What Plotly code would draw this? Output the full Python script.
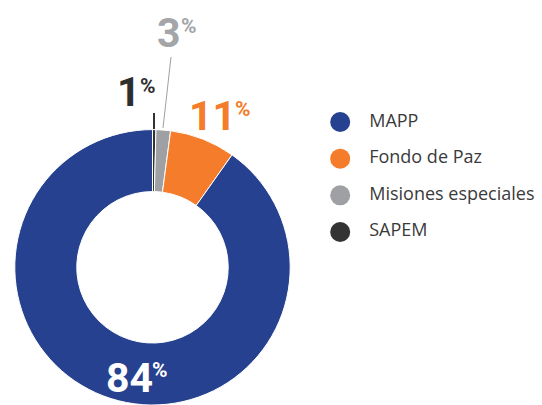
import plotly.graph_objects as go

W, H = 542, 405

# ---- data ----
categories = ["MAPP", "Fondo de Paz", "Misiones especiales", "SAPEM"]
shares_drawn = [90.2, 7.7, 1.7, 0.4]          # slice sizes as drawn
label_numbers = ["84", "11", "3", "1"]        # printed percentages
colors = ["#26418f", "#f47c2a", "#9ea0a3", "#333333"]
label_colors = ["#ffffff", "#f47c2a", "#a3a5a8", "#2e2e2e"]

def px(x, y):
    return x / W, 1 - y / H

fig = go.Figure()

fig.add_trace(go.Pie(
    labels=categories[::-1], values=shares_drawn[::-1], sort=False,
    direction="clockwise", rotation=0, hole=0.55,
    marker=dict(colors=colors[::-1], line=dict(color="#ffffff", width=1)),
    textinfo="none", hoverinfo="label+percent", showlegend=False,
    domain=dict(x=[14.8 / W, 290.2 / W], y=[0, 0.68]),
))

# legend drawn as scatter on hidden axes
fig.add_trace(go.Scatter(
    x=[0] * len(categories), y=categories, mode="markers",
    marker=dict(size=20, color=colors, line=dict(width=0)),
    xaxis="x", yaxis="y", showlegend=False, hoverinfo="skip",
))
fig.add_trace(go.Scatter(
    x=[29] * len(categories), y=categories, mode="text",
    text=categories, textposition="middle right",
    textfont=dict(family="Open Sans", size=18, color="#3a3a3a"),
    xaxis="x", yaxis="y", showlegend=False, hoverinfo="skip",
))

# percentage labels: (right edge of number, number center y, % left, % center y)
label_pos = [(155, 377.5, 150, 370), (238, 115.5, 233, 108.5),
             (183, 32.5, 179, 25.5), (143, 92, 138, 85.5)]
annotations = []
for num, col, (nx, ny, sx, sy) in zip(label_numbers, label_colors, label_pos):
    ax_, ay_ = px(nx, ny)
    annotations.append(dict(x=ax_, y=ay_, xref="paper", yref="paper", text=num,
                            showarrow=False, xanchor="right", yanchor="middle",
                            font=dict(family="Roboto", size=41, color=col, weight="bold")))
    bx, by = px(sx, sy)
    annotations.append(dict(x=bx, y=by, xref="paper", yref="paper", text="%",
                            showarrow=False, xanchor="left", yanchor="middle",
                            font=dict(family="Roboto", size=21, color=col, weight="bold")))

shapes = []
x0, y0 = px(163, 128); x1, y1 = px(171, 57)
shapes.append(dict(type="line", xref="paper", yref="paper", x0=x0, y0=y0, x1=x1, y1=y1,
                   line=dict(color="#9ea0a3", width=1)))
x0, y0 = px(154, 113); x1, y1 = px(154, 129)
shapes.append(dict(type="line", xref="paper", yref="paper", x0=x0, y0=y0, x1=x1, y1=y1,
                   line=dict(color="#333333", width=2)))

fig.update_layout(
    width=W, height=H, margin=dict(l=0, r=0, t=0, b=0),
    paper_bgcolor="white", plot_bgcolor="rgba(0,0,0,0)",
    xaxis=dict(domain=[0.6, 1.0], range=[-15, 201.8], visible=False, fixedrange=True),
    yaxis=dict(domain=[(405 - 250.3) / 405, (405 - 103.7) / 405], range=[3.5, -0.5],
               type="category", visible=False, fixedrange=True),
    annotations=annotations, shapes=shapes,
)

fig.write_html("out.html", config={"displayModeBar": False},
               post_script="document.body.style.margin='0px';")
